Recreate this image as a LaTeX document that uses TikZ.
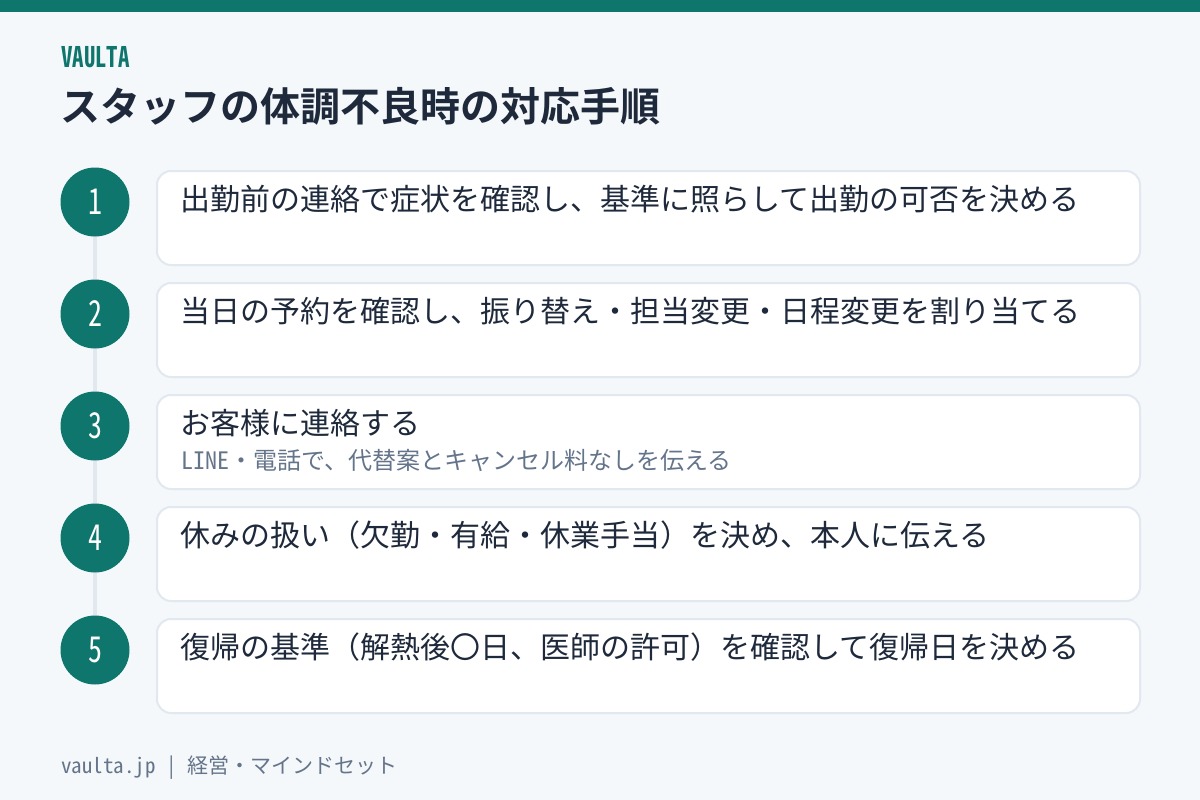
\documentclass[tikz,border=0pt]{standalone}
\usepackage{fontspec}
\setmainfont{Noto Sans CJK JP}[BoldFont={Noto Sans CJK JP Bold}]
\newfontfamily\hwfont{Noto Sans CJK JP}[RawFeature=+hwid,BoldFont={Noto Sans CJK JP Bold}]
\definecolor{teal}{HTML}{0F766E}
\definecolor{bgc}{HTML}{F5F8FA}
\definecolor{ink}{HTML}{1E293B}
\definecolor{muted}{HTML}{64748B}
\definecolor{rule}{HTML}{E2E8F0}
\tikzset{
  numcircle/.style={circle, fill=teal, minimum size=69pt, inner sep=0pt, text=white, font=\hwfont\fontsize{31}{31}\selectfont},
  card/.style={draw=rule, line width=2pt, fill=white, rounded corners=14pt},
  maintext/.style={anchor=west, text=ink, font=\fontsize{30}{30}\selectfont, inner sep=0pt},
  subtext/.style={anchor=west, text=muted, font=\hwfont\fontsize{24}{24}\selectfont, inner sep=0pt}
}
\begin{document}
\begin{tikzpicture}[x=1pt,y=-1pt]
\useasboundingbox (0,0) rectangle (1200,800);
\fill[bgc] (0,0) rectangle (1200,800);
\fill[teal] (0,0) rectangle (1200,12);
\node[anchor=west, inner sep=0pt, text=teal, font=\hwfont\bfseries\fontsize{24}{24}\selectfont] (brand) at (61,57) {\scalebox{0.95}[1.18]{VAULTA}};
\node[anchor=west, inner sep=0pt, text=ink, font=\bfseries\fontsize{40}{40}\selectfont] (title) at (60,106) {スタッフの体調不良時の対応手順};
\draw[rule, line width=4pt] (95,202) -- (95,650);
\foreach \i/\y in {1/171,2/283,3/395,4/507,5/619}{
  \fill[card] (157,\y) rectangle (1140,\y+94);
}
\foreach \i/\y in {1/202,2/314,3/426,4/538,5/650}{
  \node[numcircle] (n\i) at (95,\y) {\scalebox{0.9}[1.15]{\i}};
}
\node[maintext] (t1) at (180,199) {出勤前の連絡で症状を確認し、基準に照らして出勤の可否を決める};
\node[maintext] (t2) at (180,311) {当日の予約を確認し、振り替え・担当変更・日程変更を割り当てる};
\node[maintext] (t3) at (180,423) {お客様に連絡する};
\node[subtext] (s3) at (181,460) {LINE・電話で、代替案とキャンセル料なしを伝える};
\node[maintext] (t4) at (180,535) {休みの扱い（欠勤・有給・休業手当）を決め、本人に伝える};
\node[maintext] (t5) at (180,647) {復帰の基準（解熱後〇日、医師の許可）を確認して復帰日を決める};
\node[anchor=west, inner sep=0pt, text=muted, font=\hwfont\fontsize{21}{21}\selectfont] (foot) at (61,768) {vaulta.jp | 経営・マインドセット};
\end{tikzpicture}
\end{document}
